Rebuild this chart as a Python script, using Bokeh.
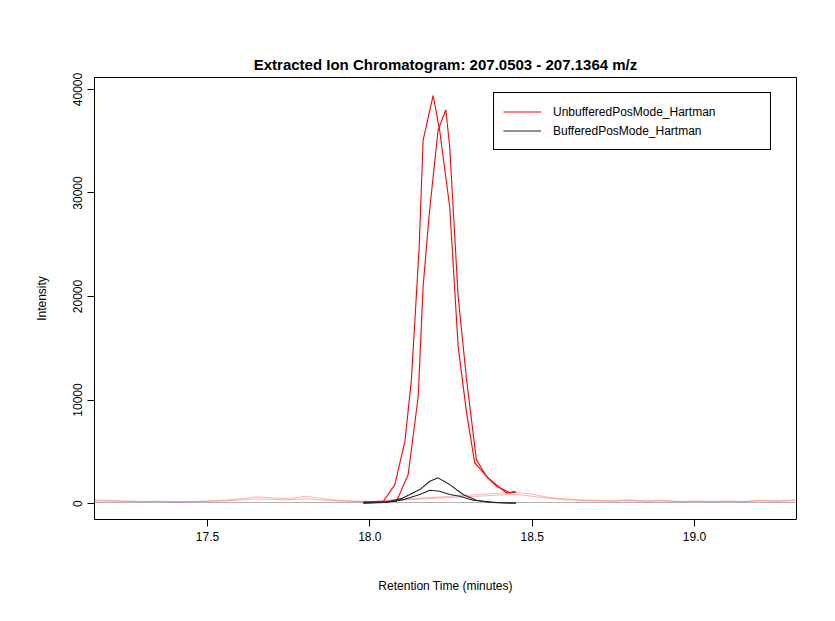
from bokeh.plotting import figure
from bokeh.models import Range1d, FixedTicker, Legend, LegendItem, PrintfTickFormatter
from bokeh.embed import file_html
from bokeh.resources import INLINE

# peak-window traces (retention time in minutes, intensity)
unbuf_rt = [17.98, 18.041, 18.077, 18.108, 18.128, 18.152, 18.164, 18.195, 18.215,
            18.246, 18.272, 18.298, 18.323, 18.364, 18.42, 18.45]
unbuf_int = [150, 200, 1830, 6000, 11950, 24800, 35080, 39420, 36050,
             28650, 15160, 8740, 3920, 2480, 1030, 1100]

buf_rt = [17.98, 18.05, 18.082, 18.118, 18.149, 18.164, 18.183, 18.21, 18.234,
          18.246, 18.272, 18.298, 18.328, 18.359, 18.39, 18.431, 18.446]
buf_int = [150, 200, 200, 2800, 10340, 20940, 28000, 36050, 38040,
           34440, 19980, 11950, 4240, 2630, 1670, 1030, 1190]

blk1_rt = [17.98, 18.05, 18.1, 18.154, 18.185, 18.21, 18.246, 18.287, 18.328, 18.37, 18.45]
blk1_int = [50, 150, 500, 1350, 2150, 2480, 1830, 870, 320, 100, 50]
blk2_rt = [17.98, 18.05, 18.1, 18.154, 18.185, 18.215, 18.246, 18.277, 18.318, 18.4, 18.45]
blk2_int = [40, 100, 350, 870, 1290, 1190, 870, 700, 320, 80, 30]

# full-range faint traces
full_rt = [17.15, 17.2, 17.25, 17.3, 17.35, 17.4, 17.45, 17.5, 17.55, 17.6, 17.65, 17.7,
           17.75, 17.8, 17.85, 17.9, 17.95, 18.0, 18.45, 18.5, 18.55, 18.6, 18.65, 18.7,
           18.75, 18.8, 18.85, 18.9, 18.95, 19.0, 19.05, 19.1, 19.15, 19.2, 19.25, 19.31]
pink1_int = [350, 300, 250, 200, 220, 180, 200, 250, 300, 450, 650, 550, 450, 700, 500,
             300, 250, 200, 1100, 900, 600, 450, 350, 300, 250, 350, 250, 300, 200, 250,
             200, 250, 200, 300, 250, 350]
pink2_int = [250, 220, 200, 180, 200, 150, 180, 200, 250, 350, 450, 400, 350, 450, 350,
             250, 200, 180, 900, 700, 500, 350, 300, 250, 220, 300, 200, 250, 180, 200,
             180, 200, 180, 250, 200, 250]
grey_int = [100] * len(full_rt)

x_ticks = [17.5, 18.0, 18.5, 19.0]
y_ticks = [0, 10000, 20000, 30000, 40000]

FONT = "Liberation Sans"

p = figure(width=826, height=612, output_backend="svg", toolbar_location=None,
           x_range=Range1d(17.152, 19.314), y_range=Range1d(-1542, 41157),
           min_border_left=94, min_border_right=30, min_border_top=77, min_border_bottom=93,
           title="Extracted Ion Chromatogram: 207.0503 - 207.1364 m/z")
p.title.align = "center"
p.title.text_font = FONT
p.title.text_font_size = "15px"
p.title.text_font_style = "bold"
p.title.text_color = "black"
p.grid.visible = False
p.outline_line_color = "black"
p.outline_line_alpha = 1

for ax in (p.xaxis[0], p.yaxis[0]):
    ax.axis_line_color = None
    ax.major_tick_line_color = "black"
    ax.minor_tick_line_color = None
    ax.major_tick_out = 7
    ax.major_tick_in = 0
    ax.major_label_text_font = FONT
    ax.major_label_text_font_size = "12px"
    ax.major_label_text_color = "black"
    ax.axis_label_text_font = FONT
    ax.axis_label_text_font_size = "12px"
    ax.axis_label_text_font_style = "normal"
    ax.axis_label_text_color = "black"
p.xaxis.ticker = FixedTicker(ticks=x_ticks)
p.xaxis.formatter = PrintfTickFormatter(format="%.1f")
p.yaxis.ticker = FixedTicker(ticks=y_ticks)
p.yaxis.major_label_orientation = "vertical"
p.xaxis.axis_label = "Retention Time (minutes)"
p.yaxis.axis_label = "Intensity"
p.xaxis.axis_label_standoff = 35
p.yaxis.axis_label_standoff = 22

p.line(full_rt, grey_int, color="grey", alpha=0.6, line_width=1)
p.line(full_rt, pink1_int, color="red", alpha=0.3, line_width=1)
p.line(full_rt, pink2_int, color="red", alpha=0.3, line_width=1)
r1 = p.line(unbuf_rt, unbuf_int, color="red", line_width=1.1)
p.line(buf_rt, buf_int, color="red", line_width=1.1)
r2 = p.line(blk1_rt, blk1_int, color="#222222", line_width=1.1)
p.line(blk2_rt, blk2_int, color="#222222", line_width=1.1)

legend = Legend(items=[LegendItem(label="UnbufferedPosMode_Hartman", renderers=[r1]),
                       LegendItem(label="BufferedPosMode_Hartman", renderers=[r2])],
                location=(399, 369))
legend.label_text_font = FONT
legend.label_text_font_size = "12px"
legend.label_text_color = "black"
legend.border_line_color = "black"
legend.border_line_alpha = 1
legend.margin = 0
legend.padding = 9
legend.spacing = 0
legend.glyph_height = 19
legend.label_height = 19
legend.glyph_width = 38
legend.label_width = 208
legend.label_standoff = 12
p.add_layout(legend)

open("out.html", "w").write(file_html(p, INLINE))
